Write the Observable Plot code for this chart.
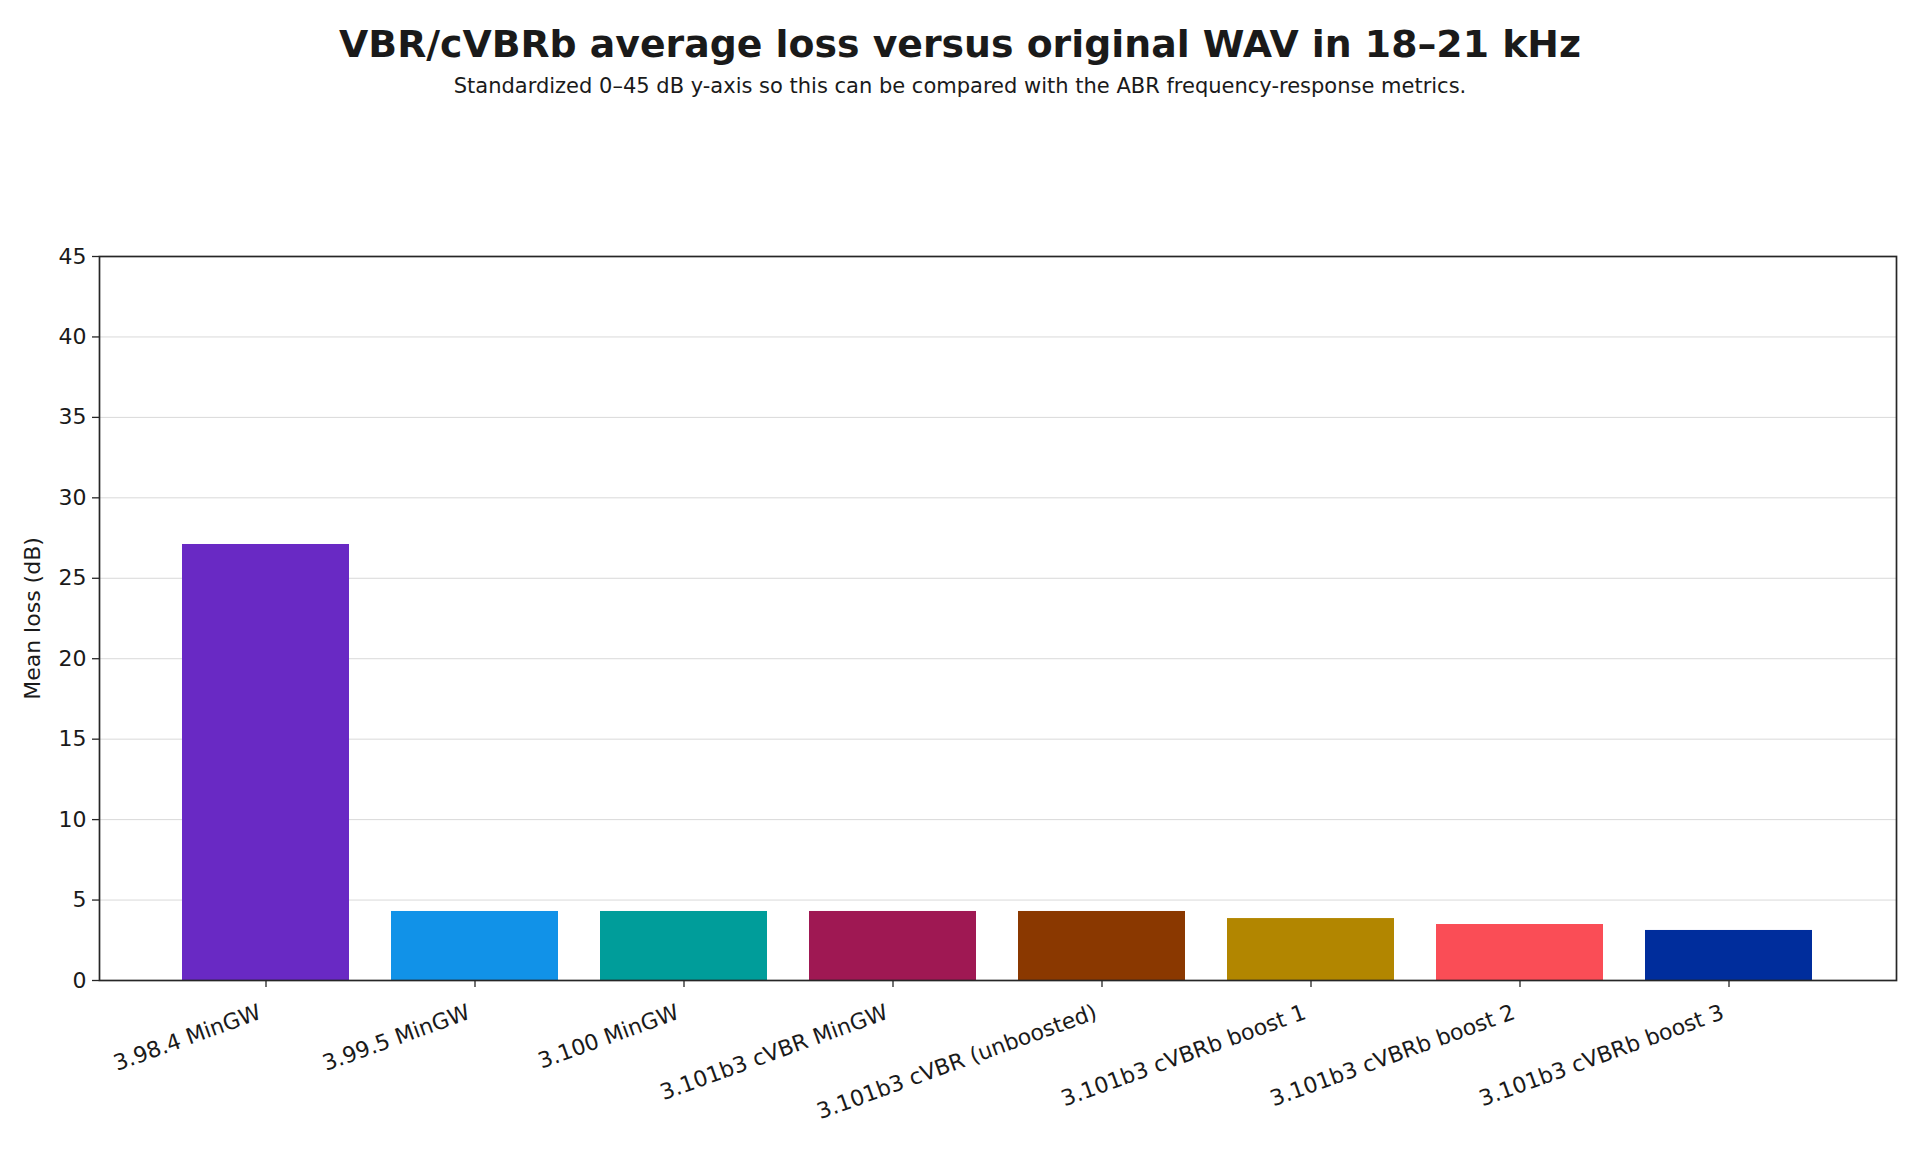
<!DOCTYPE html>
<html>
<head>
<meta charset="utf-8">
<script src="https://cdn.jsdelivr.net/npm/d3@7"></script>
<script src="https://cdn.jsdelivr.net/npm/@observablehq/plot@0.6"></script>
<style>
  html, body { margin: 0; padding: 0; background: #fff; }
  body { width: 1920px; height: 1152px; overflow: hidden; font-family: "DejaVu Sans", sans-serif; color: #1a1a1a; }
  #header { position: relative; height: 120px; width: 1920px; }
  #title { position: absolute; left: 0; width: 1920px; top: 26px; text-align: center; font-size: 37.8px; line-height: 1; font-weight: bold; color: #1a1a1a; }
  #subtitle { position: absolute; left: 0; width: 1920px; top: 76px; text-align: center; font-size: 21px; line-height: 1; color: #1a1a1a; }
  #chart svg { display: block; }
</style>
</head>
<body>
<div id="header">
  <div id="title">VBR/cVBRb average loss versus original WAV in 18–21 kHz</div>
  <div id="subtitle">Standardized 0–45 dB y-axis so this can be compared with the ABR frequency-response metrics.</div>
</div>
<div id="chart"></div>
<script>
const categories = [
  "3.98.4 MinGW",
  "3.99.5 MinGW",
  "3.100 MinGW",
  "3.101b3 cVBR MinGW",
  "3.101b3 cVBR (unboosted)",
  "3.101b3 cVBRb boost 1",
  "3.101b3 cVBRb boost 2",
  "3.101b3 cVBRb boost 3"
];
const meanLoss = [27.1, 4.29, 4.29, 4.29, 4.29, 3.85, 3.48, 3.11];
const palette = ["#6929c4", "#1192e8", "#009d9a", "#9f1853", "#8a3800", "#b28600", "#fa4d56", "#002d9c"];
const yTicks = [0, 5, 10, 15, 20, 25, 30, 35, 40, 45];

const data = categories.map((c, i) => ({label: c, value: meanLoss[i]}));

const chart = Plot.plot({
  width: 1920,
  height: 1032,
  marginTop: 136,
  marginBottom: 172,
  marginLeft: 99,
  marginRight: 24,
  style: {fontFamily: "DejaVu Sans, sans-serif", fontSize: "22px", color: "#1a1a1a", background: "#fff"},
  x: {domain: categories, paddingInner: 0.2, paddingOuter: 0.39, align: 0.5},
  y: {domain: [0, 45]},
  color: {domain: categories, range: palette},
  marks: [
    Plot.gridY(yTicks, {stroke: "#d9d9d9", strokeOpacity: 1, strokeWidth: 1}),
    Plot.barY(data, {x: "label", y: "value", fill: "label"}),
    Plot.frame({stroke: "#262626", strokeWidth: 1.7}),
    Plot.axisY({
      ticks: yTicks, tickSize: 7, tickPadding: 6, tickFormat: d => String(d),
      label: "Mean loss (dB)", labelAnchor: "center", labelArrow: "none", labelOffset: 75,
      stroke: "#262626", strokeWidth: 1.3, fontSize: 22
    }),
    Plot.axisX({
      tickSize: 7, tickFormat: () => "", label: null,
      stroke: "#262626", strokeWidth: 1.3
    }),
    Plot.axisX({
      tickSize: 0, tickPadding: 31, dx: -6, tickRotate: -20, label: null, fontSize: 22
    })
  ]
});
document.getElementById("chart").appendChild(chart);
</script>
</body>
</html>
